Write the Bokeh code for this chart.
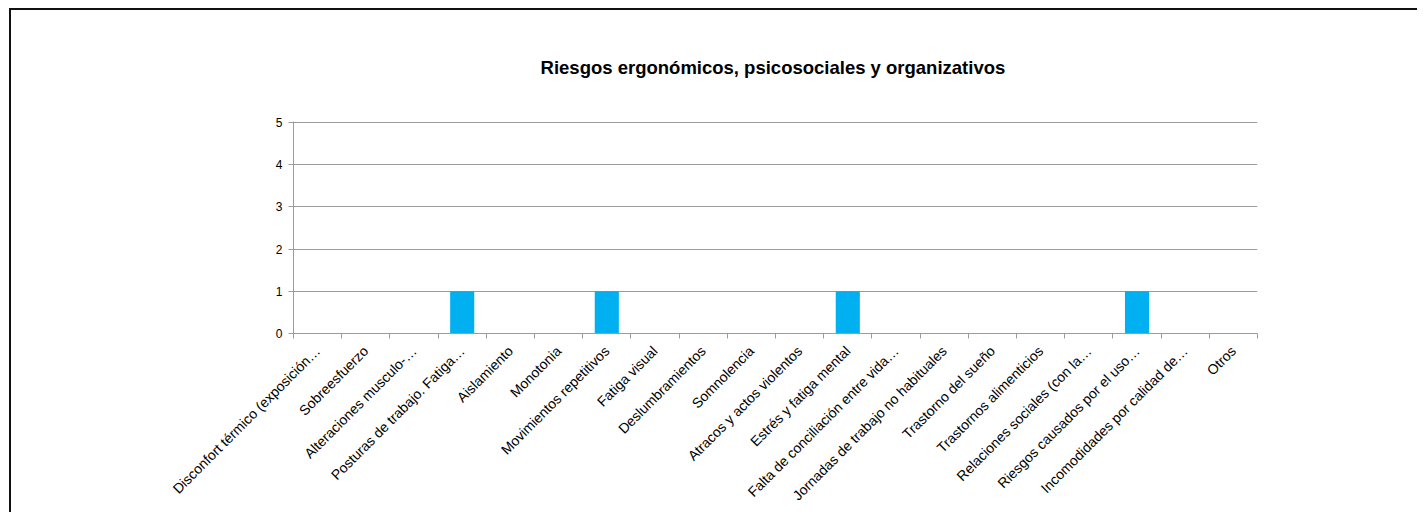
import math
from bokeh.plotting import figure
from bokeh.models import Range1d, LinearAxis, FixedTicker, ColumnDataSource
from bokeh.embed import file_html
from bokeh.resources import INLINE

categories = [
    "Disconfort térmico (exposición…",
    "Sobreesfuerzo",
    "Alteraciones musculo-…",
    "Posturas de trabajo. Fatiga…",
    "Aislamiento",
    "Monotonia",
    "Movimientos repetitivos",
    "Fatiga visual",
    "Deslumbramientos",
    "Somnolencia",
    "Atracos y actos violentos",
    "Estrés y fatiga mental",
    "Falta de conciliación entre vida…",
    "Jornadas de trabajo no habituales",
    "Trastorno del sueño",
    "Trastornos alimenticios",
    "Relaciones sociales (con la…",
    "Riesgos causados por el uso…",
    "Incomodidades por calidad de…",
    "Otros",
]
values = [0, 0, 0, 1, 0, 0, 1, 0, 0, 0, 0, 1, 0, 0, 0, 0, 0, 1, 0, 0]
y_ticks = [0, 1, 2, 3, 4, 5]
title_text = "Riesgos ergonómicos, psicosociales  y organizativos"

FONT = "Liberation Sans"
GRAY = "#9c9c9c"

n = len(categories)
centers = [i + 0.5 for i in range(n)]
bounds = list(range(n + 1))
source = ColumnDataSource(dict(x=centers, top=values, name=categories))

p = figure(
    width=1408, height=504,
    x_range=Range1d(0, n),
    y_range=Range1d(0, 5.025),
    x_axis_location=None, y_axis_location=None,
    output_backend="svg", toolbar_location=None,
    min_border_left=282, min_border_right=162,
    min_border_top=111, min_border_bottom=181,
)
p.styles = {
    "margin-left": "9px", "margin-top": "8px",
    "border-left": "2px solid #111", "border-top": "2px solid #111",
}
p.outline_line_color = None
p.background_fill_color = "white"
p.border_fill_color = "white"

p.title.text = title_text
p.title.align = "center"
p.title.text_font = FONT
p.title.text_font_size = "18.5px"
p.title.text_font_style = "bold"
p.title.text_color = "black"
p.title.standoff = 88

p.vbar(x="x", top="top", width=0.5, source=source, color="#00B0F0", line_color=None)

# y axis
yaxis = LinearAxis(ticker=FixedTicker(ticks=y_ticks))
yaxis.axis_line_color = GRAY
yaxis.major_tick_line_color = GRAY
yaxis.major_tick_in = 0
yaxis.major_tick_out = 5
yaxis.minor_tick_line_color = None
yaxis.major_label_text_font = FONT
yaxis.major_label_text_font_size = "12px"
yaxis.major_label_text_color = "black"
yaxis.major_label_standoff = 6
p.add_layout(yaxis, "left")

p.ygrid.ticker = FixedTicker(ticks=y_ticks)
p.ygrid.grid_line_color = GRAY
p.ygrid.grid_line_width = 1
p.xgrid.grid_line_color = None

# category axis: labels at centres, tick marks at category boundaries
xaxis = LinearAxis(ticker=FixedTicker(ticks=centers, minor_ticks=bounds))
xaxis.major_label_overrides = {c: name for c, name in zip(centers, categories)}
xaxis.axis_line_color = GRAY
xaxis.major_tick_line_color = None
xaxis.major_tick_in = 0
xaxis.major_tick_out = 0
xaxis.minor_tick_line_color = GRAY
xaxis.minor_tick_in = 0
xaxis.minor_tick_out = 5
xaxis.major_label_orientation = math.pi / 4
xaxis.major_label_text_font = FONT
xaxis.major_label_text_font_size = "14px"
xaxis.major_label_text_color = "black"
xaxis.major_label_standoff = 10
p.add_layout(xaxis, "below")

open("out.html", "w").write(file_html(p, INLINE))
